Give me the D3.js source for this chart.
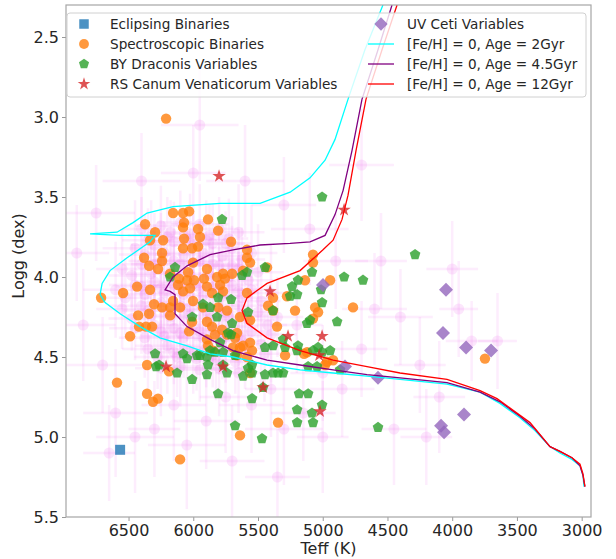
<!DOCTYPE html>
<html>
<head>
<meta charset="utf-8">
<script src="https://cdnjs.cloudflare.com/ajax/libs/d3/7.8.5/d3.min.js"></script>
<style>
	body { margin: 0; background: #fff; }
	text { font-family: "DejaVu Sans", sans-serif; }
</style>
</head>
<body>
<svg width="616" height="559"></svg>
<script>
// ---- data: [Teff (K), logg (dex)] ----
const eclipsing = [[6565, 5.08]];

const spectroscopic = [
	[6210,3.01],[6712,4.13],[6156,3.60],[6079,3.60],[6032,3.59],[6372,3.67],[6071,3.66],[6079,3.69],
	[6295,3.72],[5886,3.64],[5963,3.70],[5808,3.71],[5948,3.75],[6071,3.76],[6233,3.77],[6334,3.77],
	[5708,3.78],[6079,3.82],[6009,3.82],[5963,3.81],[6241,3.85],[6380,3.88],[6241,3.90],[6341,3.93],
	[6272,3.95],[6002,3.91],[6179,3.98],[6040,3.97],[5894,3.95],[5816,4.00],[5770,3.98],[5700,3.98],
	[5755,4.01],[6110,4.01],[6048,4.02],[5994,4.02],[5917,4.01],[6118,4.05],[6025,4.07],[5793,4.05],
	[5770,4.09],[6434,4.06],[6334,4.08],[6542,4.10],[6079,4.09],[6002,4.15],[6156,4.15],[6303,4.17],
	[6179,4.19],[6102,4.19],[6179,4.24],[6241,4.19],[6341,4.23],[6426,4.24],[5925,4.19],[5808,4.19],
	[5739,4.21],[5639,4.25],[5894,4.28],[5855,4.31],[6009,4.28],[6419,4.31],[6365,4.31],[6318,4.31],
	[6488,4.37],[6032,4.34],[5832,4.36],[5739,4.36],[5677,4.38],[5615,4.43],[5561,4.41],[5886,4.43],
	[5847,4.46],[5585,3.88],[5561,3.91],[5585,3.83],[5615,3.96],[5430,3.94],[5075,3.86],[5075,3.91],
	[5585,4.10],[5384,4.13],[5276,4.12],[5137,4.02],[4943,4.02],[5422,4.18],[5384,4.21],[5214,4.21],
	[5059,4.19],[5036,4.22],[5075,4.26],[4766,4.19],[5561,4.27],[5353,4.31],[5662,4.35],[5894,4.39],
	[5693,4.44],[5639,4.44],[5546,4.46],[5662,4.49],[5585,4.50],[5291,4.49],[5121,4.47],[4982,4.55],
	[4920,4.52],[4967,4.53],[5561,4.60],[5345,4.91],[5639,4.99],[6589,4.66],[6357,4.73],[6311,4.78],
	[6272,4.76],[6357,4.55],[6187,4.59],[6102,5.14],[3747,4.51],[5144,4.48],[5855,4.10],[5894,4.06],
	[5778,4.33]
];

const byDraconis = [
	[5778,3.64],[6141,3.94],[6179,4.00],[5623,3.99],[5585,3.97],[5808,4.13],[5708,4.14],[5925,4.17],
	[5870,4.19],[6009,4.25],[5816,4.25],[5577,4.22],[5700,4.29],[5708,4.36],[6295,4.48],[6079,4.48],
	[5971,4.49],[5894,4.50],[5832,4.47],[5770,4.47],[6048,4.51],[5446,3.94],[5083,3.97],[4835,4.00],
	[4689,4.02],[5237,4.06],[5191,4.02],[5252,4.12],[5198,4.11],[5013,4.08],[5005,4.16],[5384,4.21],
	[5121,4.29],[5098,4.27],[4889,4.28],[5731,4.35],[5793,4.41],[5870,4.46],[5677,4.49],[5446,4.44],
	[5384,4.43],[5306,4.39],[5291,4.44],[5191,4.43],[5198,4.46],[5075,4.46],[5036,4.44],[5005,4.47],
	[4943,4.46],[5113,4.56],[5044,4.56],[4866,4.58],[5446,4.61],[5384,4.60],[5345,4.60],[5306,4.60],
	[5615,4.62],[5546,4.60],[5546,4.55],[5577,4.57],[5894,4.61],[5739,4.60],[5808,4.73],[5546,4.76],
	[5461,4.69],[5183,4.73],[5113,4.73],[5198,4.83],[5083,4.85],[5005,4.80],[5198,4.91],[5075,4.91],
	[5677,4.93],[5469,5.01],[4573,4.94],[5948,4.49],[5886,4.55],[5770,4.55],[6264,4.55],[6287,4.56],
	[6125,4.60],[6009,4.64],[4287,3.86],[5005,3.50]
];

const rsCVn = [
	[5801,3.37],[4835,3.58],[5407,4.09],[5268,4.37],[5005,4.37],[5028,4.49],[6210,4.56],[5770,4.56],
	[5461,4.69],[5021,4.84]
];

const uvCeti = [
	[4998,4.05],[4828,4.56],[4573,4.63],[4048,4.08],[4071,4.35],[3893,4.44],[3700,4.46],[3909,4.86],
	[4086,4.93],[4063,4.97]
];

// background sample: [Teff, logg, Teff error, logg error]
const sample = [
	[6400,3.70,150,0.2],[6250,3.68,200,0.25],[6100,3.66,180,0.2],[5950,3.67,220,0.25],[5800,3.70,150,0.2],[5650,3.72,200,0.3],
	[6450,3.82,250,0.3],[6300,3.80,180,0.2],[6150,3.78,200,0.25],[6000,3.80,150,0.2],[5850,3.79,250,0.25],[5700,3.82,180,0.2],[5550,3.85,200,0.3],
	[6550,3.95,200,0.25],[6400,3.92,150,0.2],[6250,3.90,250,0.3],[6100,3.92,200,0.2],[5950,3.90,180,0.25],[5800,3.93,200,0.2],[5650,3.95,150,0.25],[5500,3.97,200,0.3],
	[6600,4.08,250,0.3],[6450,4.05,200,0.25],[6300,4.03,150,0.2],[6150,4.05,200,0.25],[6000,4.04,250,0.2],[5850,4.06,180,0.25],[5700,4.05,200,0.2],[5550,4.08,150,0.25],[5400,4.10,200,0.3],
	[6550,4.20,200,0.25],[6400,4.18,250,0.3],[6250,4.16,150,0.2],[6100,4.18,200,0.25],[5950,4.17,180,0.2],[5800,4.20,200,0.25],[5650,4.18,250,0.3],[5500,4.22,150,0.2],[5350,4.25,200,0.25],
	[6450,4.32,200,0.2],[6300,4.30,150,0.25],[6150,4.32,250,0.3],[6000,4.30,200,0.2],[5850,4.33,180,0.25],[5700,4.31,200,0.2],[5550,4.34,150,0.25],[5400,4.36,200,0.3],
	[6350,4.45,200,0.25],[6200,4.43,250,0.3],[6050,4.45,150,0.2],[5900,4.44,200,0.25],[5750,4.46,180,0.2],[5600,4.45,200,0.25],[5450,4.48,250,0.3],
	[6250,4.57,200,0.3],[6100,4.56,150,0.25],[5950,4.58,200,0.2],[5800,4.57,250,0.3],[5650,4.60,180,0.25],
	[6325,3.74,180,0.22],[6175,3.72,150,0.2],[6025,3.73,200,0.25],[5875,3.74,180,0.2],[5725,3.76,150,0.25],
	[6375,3.86,200,0.25],[6225,3.85,180,0.2],[6075,3.86,220,0.25],[5925,3.85,150,0.2],[5775,3.87,200,0.25],[5625,3.89,180,0.2],
	[6475,3.99,180,0.2],[6325,3.98,200,0.25],[6175,3.97,150,0.2],[6025,3.98,200,0.25],[5875,3.99,220,0.2],[5725,4.00,180,0.25],[5575,4.02,200,0.2],
	[6525,4.13,200,0.25],[6375,4.11,180,0.2],[6225,4.10,220,0.25],[6075,4.11,150,0.2],[5925,4.12,200,0.25],[5775,4.12,180,0.2],[5625,4.13,200,0.25],[5475,4.15,150,0.2],
	[6475,4.26,180,0.2],[6325,4.24,200,0.25],[6175,4.25,150,0.2],[6025,4.24,200,0.25],[5875,4.26,220,0.2],[5725,4.25,180,0.25],[5575,4.27,200,0.2],[5425,4.30,150,0.25],
	[6375,4.38,200,0.25],[6225,4.37,180,0.2],[6075,4.38,150,0.25],[5925,4.38,200,0.2],[5775,4.39,220,0.25],[5625,4.40,180,0.2],[5475,4.42,200,0.25],
	[6275,4.50,180,0.2],[6125,4.50,200,0.25],[5975,4.51,150,0.2],[5825,4.52,200,0.25],[5675,4.53,180,0.2],
	[6350,3.77,200,0.2],[6200,3.75,180,0.25],[6050,3.76,200,0.2],[5900,3.77,150,0.25],[5750,3.79,200,0.2],
	[6300,3.92,180,0.25],[6150,3.90,200,0.2],[6000,3.91,150,0.25],[5850,3.92,200,0.2],[5700,3.93,180,0.25],
	[6400,4.06,200,0.2],[6250,4.07,150,0.25],[6100,4.06,200,0.2],[5950,4.07,180,0.25],[5800,4.08,200,0.2],[5650,4.09,150,0.25],
	[6350,4.21,200,0.2],[6200,4.21,180,0.25],[6050,4.20,200,0.2],[5900,4.21,150,0.25],[5750,4.22,200,0.2],[5600,4.24,180,0.25],
	[6250,4.34,200,0.2],[6100,4.35,180,0.25],[5950,4.34,150,0.2],[5800,4.36,200,0.25],[5650,4.37,180,0.2],
	[6150,4.47,200,0.2],[6000,4.48,150,0.25],[5850,4.49,200,0.2],
	[6750,3.60,300,0.3],[6850,4.30,250,0.35],[6700,4.55,300,0.3],[6600,4.85,250,0.4],[6450,5.00,300,0.35],[6300,4.95,200,0.3],
	[6150,4.80,250,0.35],[6050,5.05,300,0.4],[5900,4.90,250,0.3],[5750,4.75,200,0.35],[5550,4.80,250,0.3],[5400,4.70,200,0.3],
	[5300,4.95,300,0.35],[5150,4.85,250,0.3],[5000,5.00,200,0.35],[4850,4.70,250,0.3],[4700,4.45,200,0.3],[4600,4.20,250,0.35],
	[4550,3.90,200,0.3],[4400,4.25,250,0.3],[4250,4.55,200,0.3],[4100,4.75,200,0.35],[3950,4.20,150,0.3],[3850,4.40,200,0.25],
	[3650,4.40,150,0.3],[4200,5.00,200,0.3],[4450,4.95,250,0.35],[5100,3.70,300,0.35],[5300,3.55,250,0.3],[5600,3.40,300,0.35],
	[6000,3.35,250,0.3],[6400,3.40,300,0.3],[5950,3.05,300,0.35],[4900,3.90,250,0.3],[5200,4.30,200,0.3],[5000,4.60,250,0.3],
	[6650,5.10,200,0.3],[5700,5.15,250,0.35],[6900,3.85,250,0.3],[4700,3.30,250,0.35],[4000,3.95,200,0.3],[5350,5.25,250,0.3]
];

// isochrones, [Fe/H] = 0
const iso2 = [
	[4535,2.30],[4674,2.58],[4805,2.89],[4905,3.14],[4982,3.27],[5098,3.38],[5252,3.47],[5484,3.54],
	[5793,3.54],[6156,3.56],[6357,3.60],[6465,3.66],[6589,3.72],[6797,3.73],[6565,3.74],[6295,3.74],
	[6334,3.78],[6511,3.88],[6643,3.96],[6704,4.04],[6720,4.11],[6681,4.16],[6565,4.23],[6411,4.31],
	[6257,4.38],[6048,4.43],[5870,4.48],[5693,4.50],[5430,4.55],[5175,4.58],[4920,4.60],[4658,4.62],
	[4403,4.64],[4040,4.67],[3785,4.72],[3631,4.79],[3477,4.88],[3361,4.96],[3245,5.06],[3168,5.10],
	[3075,5.14],[3013,5.18],[2990,5.24],[2982,5.31]
];
const iso45 = [
	[4465,2.30],[4573,2.58],[4697,2.89],[4774,3.21],[4843,3.46],[4905,3.61],[4982,3.74],[5098,3.78],
	[5252,3.79],[5484,3.80],[5693,3.83],[5870,3.86],[6048,3.93],[6156,4.00],[6218,4.08],[6179,4.09],
	[6141,4.11],[6141,4.23],[6048,4.31],[5870,4.39],[5693,4.46],[5430,4.52],[5175,4.55],[4920,4.58],
	[4658,4.61],[4403,4.63],[4040,4.66],[3785,4.72],[3631,4.78],[3477,4.87],[3361,4.95],[3245,5.06],
	[3168,5.09],[3075,5.13],[3013,5.18],[2990,5.24],[2975,5.31]
];
const iso12 = [
	[4426,2.30],[4542,2.58],[4666,2.89],[4743,3.21],[4805,3.49],[4851,3.64],[4920,3.77],[4998,3.83],
	[5175,3.96],[5430,4.04],[5585,4.13],[5623,4.21],[5585,4.29],[5430,4.38],[5175,4.46],[4920,4.52],
	[4658,4.56],[4403,4.60],[4040,4.64],[3785,4.71],[3654,4.76],[3399,4.91],[3245,5.06],[3168,5.09],
	[3075,5.13],[3013,5.17],[2990,5.23],[2975,5.31]
];

const teffTicks = [6500, 6000, 5500, 5000, 4500, 4000, 3500, 3000];
const loggTicks = [2.5, 3.0, 3.5, 4.0, 4.5, 5.0, 5.5];

// ---- layout ----
let svg = d3.select("svg"),
	margin = {top: 5, right: 25, bottom: 42, left: 66},
	width = svg.attr("width") - margin.left - margin.right,
	height = svg.attr("height") - margin.top - margin.bottom,
	g = svg.append("g").attr("transform", "translate(" + margin.left + "," + margin.top + ")");

let x = d3.scaleLinear().domain([6983, 2928]).range([0, width]),
	y = d3.scaleLinear().domain([2.3, 5.5]).range([0, height]);

// marker shapes, size = radius in px
const circle = { draw(c, r) { c.moveTo(r, 0); c.arc(0, 0, r, 0, 2 * Math.PI); } };
const square = { draw(c, r) { c.rect(-r, -r, 2 * r, 2 * r); } };
const diamond = { draw(c, r) { c.moveTo(0, -r); c.lineTo(r, 0); c.lineTo(0, r); c.lineTo(-r, 0); c.closePath(); } };
const pentagon = { draw(c, r) {
	for (let i = 0; i < 5; i++) {
		let a = -Math.PI / 2 + i * 2 * Math.PI / 5;
		i ? c.lineTo(r * Math.cos(a), r * Math.sin(a)) : c.moveTo(r * Math.cos(a), r * Math.sin(a));
	}
	c.closePath();
} };
const star = { draw(c, r) {
	for (let i = 0; i < 10; i++) {
		let a = -Math.PI / 2 + i * Math.PI / 5, rr = i % 2 ? r * 0.382 : r;
		i ? c.lineTo(rr * Math.cos(a), rr * Math.sin(a)) : c.moveTo(rr * Math.cos(a), rr * Math.sin(a));
	}
	c.closePath();
} };

const groups = [
	{label: "Eclipsing Binaries", data: eclipsing, shape: square, r: 5, color: "#1f77b4"},
	{label: "Spectroscopic Binaries", data: spectroscopic, shape: circle, r: 5.2, color: "#ff7f0e"},
	{label: "BY Draconis Variables", data: byDraconis, shape: pentagon, r: 5.6, color: "#2ca02c"},
	{label: "RS Canum Venaticorum Variables", data: rsCVn, shape: star, r: 7, color: "#d62728"},
	{label: "UV Ceti Variables", data: uvCeti, shape: diamond, r: 7, color: "#9467bd"}
];
const isochrones = [
	{label: "[Fe/H] = 0, Age = 2Gyr", data: iso2, color: "cyan"},
	{label: "[Fe/H] = 0, Age = 4.5Gyr", data: iso45, color: "purple"},
	{label: "[Fe/H] = 0, Age = 12Gyr", data: iso12, color: "red"}
];

svg.append("defs").append("clipPath").attr("id", "plot")
	.append("rect").attr("width", width).attr("height", height);

let plot = g.append("g").attr("clip-path", "url(#plot)");

// background sample with error bars
let bg = plot.append("g").attr("stroke", "violet").attr("stroke-opacity", 0.14).attr("stroke-width", 2.5);
bg.selectAll("line.h").data(sample).enter().append("line")
	.attr("x1", d => x(d[0] - d[2])).attr("x2", d => x(d[0] + d[2]))
	.attr("y1", d => y(d[1])).attr("y2", d => y(d[1]));
bg.selectAll("line.v").data(sample).enter().append("line")
	.attr("x1", d => x(d[0])).attr("x2", d => x(d[0]))
	.attr("y1", d => y(d[1] - d[3])).attr("y2", d => y(d[1] + d[3]));
plot.append("g").selectAll("circle").data(sample).enter().append("circle")
	.attr("cx", d => x(d[0])).attr("cy", d => y(d[1])).attr("r", 5.5)
	.attr("fill", "violet").attr("fill-opacity", 0.2);

// catalogue stars
groups.forEach(function(s) {
	plot.append("g").selectAll("path").data(s.data).enter().append("path")
		.attr("transform", d => "translate(" + x(d[0]) + "," + y(d[1]) + ")")
		.attr("d", d3.symbol().type(s.shape).size(s.r))
		.attr("fill", s.color).attr("fill-opacity", 0.8);
});

// isochrones
isochrones.forEach(function(s) {
	plot.append("path").datum(s.data)
		.attr("fill", "none").attr("stroke", s.color).attr("stroke-width", 1.3)
		.attr("d", d3.line().x(d => x(d[0])).y(d => y(d[1])));
});

// axes
let xAxis = g.append("g").attr("transform", "translate(0," + height + ")")
	.call(d3.axisBottom(x).tickValues(teffTicks).tickFormat(d3.format("d")).tickSize(4).tickPadding(4));
let yAxis = g.append("g")
	.call(d3.axisLeft(y).tickValues(loggTicks).tickFormat(d3.format(".1f")).tickSize(4).tickPadding(3));
[xAxis, yAxis].forEach(function(a) {
	a.select(".domain").remove();
	a.selectAll("line").attr("stroke", "#999");
	a.selectAll("text").attr("fill", "#262626").style("font-size", "16px");
});

g.append("rect").attr("width", width).attr("height", height)
	.attr("fill", "none").attr("stroke", "#a6a6a6").attr("stroke-width", 1.2);

g.append("text").attr("x", width / 2).attr("y", height + 37)
	.attr("text-anchor", "middle").attr("fill", "#262626").style("font-size", "16px")
	.text("Teff (K)");
g.append("text").attr("transform", "rotate(-90)")
	.attr("x", -height / 2 + 5).attr("y", -42)
	.attr("text-anchor", "middle").attr("fill", "#262626").style("font-size", "16px")
	.text("Logg (dex)");

// legend
let legend = g.append("g").attr("transform", "translate(1,8)");
legend.append("rect").attr("width", 519).attr("height", 84).attr("rx", 3)
	.attr("fill", "#fff").attr("fill-opacity", 0.8).attr("stroke", "#d0d0d0");

let entries = groups.map(d => ({kind: "marker", s: d})).concat(isochrones.map(d => ({kind: "line", s: d})));
let item = legend.selectAll("g.item").data(entries).enter().append("g")
	.attr("transform", (d, i) => "translate(" + (i < 4 ? 17 : 314) + "," + (11 + (i % 4) * 20) + ")");
item.filter(d => d.kind === "marker").append("path")
	.attr("d", d => d3.symbol().type(d.s.shape).size(d.s.r * 0.95)())
	.attr("fill", d => d.s.color).attr("fill-opacity", 0.8);
item.filter(d => d.kind === "line").append("line")
	.attr("x1", -13).attr("x2", 13).attr("stroke", d => d.s.color).attr("stroke-width", 1.3);
item.append("text").attr("x", 26).attr("dy", "0.35em")
	.attr("fill", "#262626").style("font-size", "13.6px")
	.text(d => d.s.label);
</script>
</body>
</html>
